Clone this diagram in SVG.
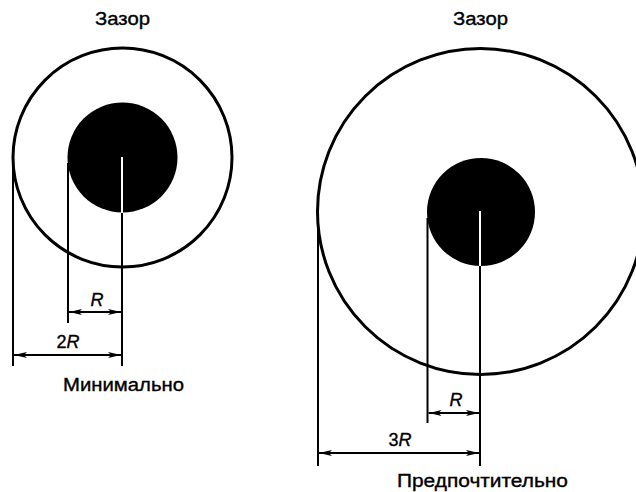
<svg xmlns="http://www.w3.org/2000/svg" width="636" height="492" viewBox="0 0 636 492">
<defs>
<marker id="ah" viewBox="0 0 13 6" refX="13" refY="3" markerWidth="13" markerHeight="6" markerUnits="userSpaceOnUse" orient="auto-start-reverse">
<path d="M0,0 L13,3 L0,6 L3,3 Z" fill="#000"/>
</marker>
</defs>
<style>
text{font-family:"Liberation Sans",Arial,sans-serif;font-size:18px;fill:#000;stroke:#000;stroke-width:0.35}
.it{font-style:italic}
.outer{fill:none;stroke:#000;stroke-width:3}
.core{fill:#000}
.ln{stroke:#000;stroke-width:2;fill:none}
.wl{stroke:#fff;stroke-width:2}
.dim{stroke:#000;stroke-width:1.8;fill:none;marker-start:url(#ah);marker-end:url(#ah)}
</style>
<rect width="636" height="492" fill="#fff"/>
<g id="left">
<text x="95" y="25" textLength="55" lengthAdjust="spacingAndGlyphs">Зазор</text>
<circle class="outer" cx="122.5" cy="157.5" r="109.5"/>
<circle class="core" cx="122.5" cy="157.5" r="55"/>
<text x="63" y="391" textLength="121" lengthAdjust="spacingAndGlyphs">Минимально</text>
</g>
<g id="right">
<text x="453" y="25" textLength="55" lengthAdjust="spacingAndGlyphs">Зазор</text>
<circle class="outer" cx="480.5" cy="211.5" r="163"/>
<circle class="core" cx="481" cy="212" r="54"/>
<text x="397" y="487" textLength="171" lengthAdjust="spacingAndGlyphs">Предпочтительно</text>
</g>
<g id="connectors">
<line class="wl" x1="122" y1="157" x2="122" y2="213"/>
<line class="ln" x1="122" y1="213" x2="122" y2="366"/>
<line class="ln" x1="13" y1="157" x2="13" y2="366"/>
<line class="ln" x1="68" y1="163" x2="68" y2="323"/>
<line class="dim" x1="69" y1="312" x2="121" y2="312"/>
<line class="dim" x1="14" y1="355" x2="121" y2="355"/>
<text x="97" y="306" text-anchor="middle" class="it">R</text>
<text x="68" y="348" text-anchor="middle">2<tspan class="it">R</tspan></text>
<line class="wl" x1="480" y1="211" x2="480" y2="266"/>
<line class="ln" x1="480" y1="266" x2="480" y2="466"/>
<line class="ln" x1="318" y1="211" x2="318" y2="466"/>
<line class="ln" x1="427.5" y1="218" x2="427.5" y2="423"/>
<line class="dim" x1="428.5" y1="413" x2="479" y2="413"/>
<line class="dim" x1="319" y1="453" x2="479" y2="453"/>
<text x="456" y="406" text-anchor="middle" class="it">R</text>
<text x="400" y="446" text-anchor="middle">3<tspan class="it">R</tspan></text>
</g>
</svg>
